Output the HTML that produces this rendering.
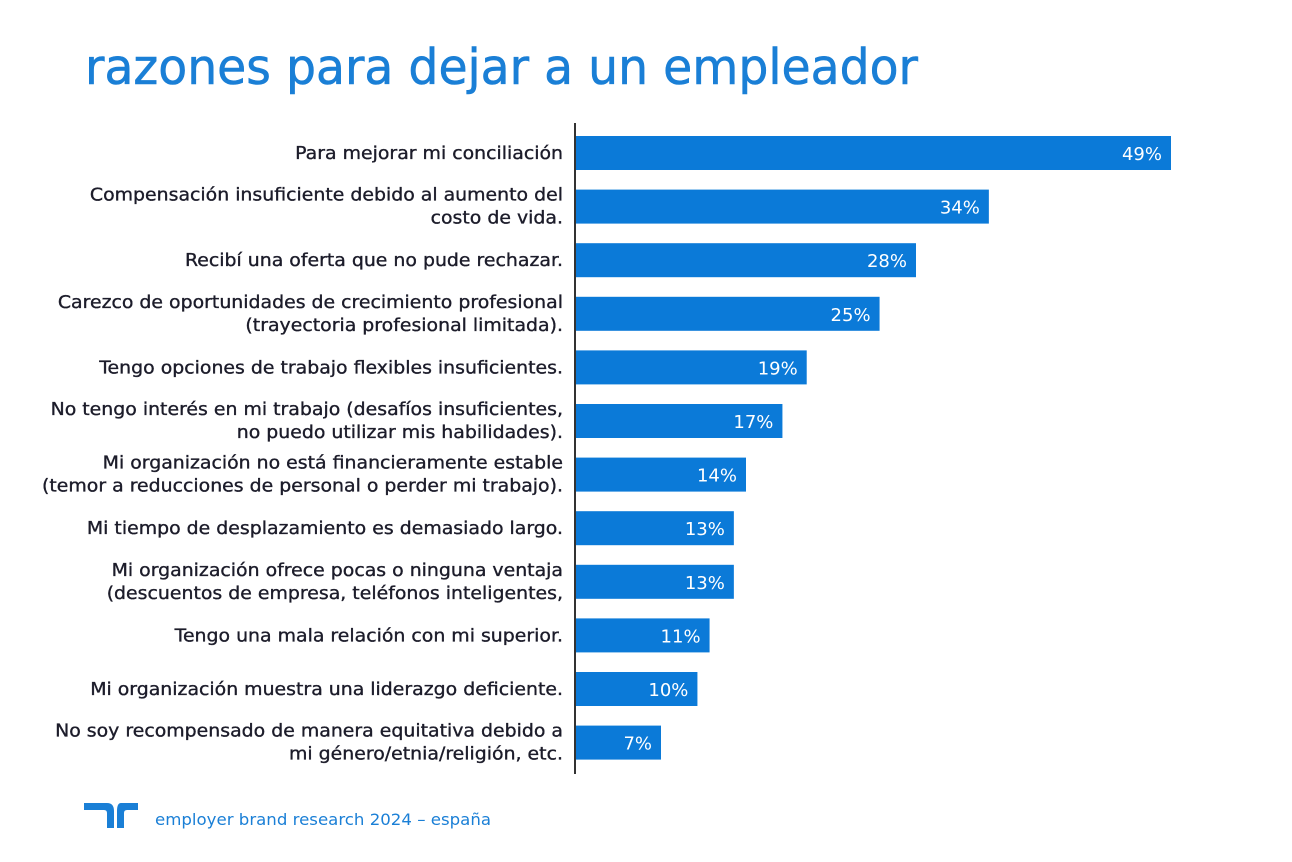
<!DOCTYPE html>
<html><head><meta charset="utf-8"><style>
html,body{margin:0;padding:0;background:#fff;}
svg{display:block;}
</style></head><body>
<svg width="1292" height="862" viewBox="0 0 1292 862" id="chart">
<text x="85" y="84" font-family="DejaVu Sans, Liberation Sans, sans-serif" font-size="49" fill="#1a7fd6" stroke="#1a7fd6" stroke-width="0.6" textLength="833" lengthAdjust="spacingAndGlyphs">razones para dejar a un empleador</text>
<line x1="575" y1="123" x2="575" y2="774" stroke="#333" stroke-width="2"/>
<g id="bars"></g>
<g id="labels" transform="translate(563,0) scale(1.08,1) translate(-563,0)"></g>
<g>
<path d="M84 803 H107 Q114 803 114 811 V828 H107 V813 Q107 810 104 810 H84 Z" fill="#1a7fd6"/>
<path d="M138 803 H121 Q117 803 117 811 V828 H124 V813 Q124 810 127 810 H138 Z" fill="#1a7fd6"/>
</g>
<text x="155" y="825" font-family="DejaVu Sans, Liberation Sans, sans-serif" font-size="16" fill="#1a7fd6" textLength="336" lengthAdjust="spacingAndGlyphs">employer brand research 2024 – españa</text>
</svg>
<script>
const categories = [
 ["Para mejorar mi conciliación"],
 ["Compensación insuficiente debido al aumento del","costo de vida."],
 ["Recibí una oferta que no pude rechazar."],
 ["Carezco de oportunidades de crecimiento profesional","(trayectoria profesional limitada)."],
 ["Tengo opciones de trabajo flexibles insuficientes."],
 ["No tengo interés en mi trabajo (desafíos insuficientes,","no puedo utilizar mis habilidades)."],
 ["Mi organización no está financieramente estable","(temor a reducciones de personal o perder mi trabajo)."],
 ["Mi tiempo de desplazamiento es demasiado largo."],
 ["Mi organización ofrece pocas o ninguna ventaja","(descuentos de empresa, teléfonos inteligentes,"],
 ["Tengo una mala relación con mi superior."],
 ["Mi organización muestra una liderazgo deficiente."],
 ["No soy recompensado de manera equitativa debido a","mi género/etnia/religión, etc."]
];
const values = [49,34,28,25,19,17,14,13,13,11,10,7];
const valueLabels = ["49%","34%","28%","25%","19%","17%","14%","13%","13%","11%","10%","7%"];
const NS="http://www.w3.org/2000/svg";
const x0=576, pxPer=(1171-576)/49, rowTop=153, rowStep=53.6, barH=34, labelRight=563;
const xScale=v=>x0+v*pxPer;
const yScale=i=>rowTop+i*rowStep;
const g=document.getElementById('bars');
const gl=document.getElementById('labels');
values.forEach((v,i)=>{
  const cy=yScale(i);
  const r=document.createElementNS(NS,'rect');
  r.setAttribute('x',x0);r.setAttribute('y',cy-barH/2);
  r.setAttribute('width',xScale(v)-x0);r.setAttribute('height',barH);
  r.setAttribute('fill','#0b7ad8');
  
  
  g.appendChild(r);
  const t=document.createElementNS(NS,'text');
  t.setAttribute('x',xScale(v)-9);t.setAttribute('y',cy+7);
  t.setAttribute('text-anchor','end');t.setAttribute('fill','#fff');
  t.setAttribute('font-family','DejaVu Sans, Liberation Sans, sans-serif');
  t.setAttribute('font-size','18');
  t.textContent=valueLabels[i];
  
  
  g.appendChild(t);
  const lines=categories[i];
  lines.forEach((ln,j)=>{
    const lt=document.createElementNS(NS,'text');
    const by = lines.length===1 ? cy+6 : cy-6+j*23;
    lt.setAttribute('x',labelRight);lt.setAttribute('y',by);
    lt.setAttribute('text-anchor','end');lt.setAttribute('fill','#1c1c2a');
    lt.setAttribute('stroke','#1c1c2a');lt.setAttribute('stroke-width','0.35');
    lt.setAttribute('font-family','DejaVu Sans, Liberation Sans, sans-serif');
    lt.setAttribute('font-size','17.5');
    lt.textContent=ln;
    
    
    gl.appendChild(lt);
  });
});
</script>
</body></html>
